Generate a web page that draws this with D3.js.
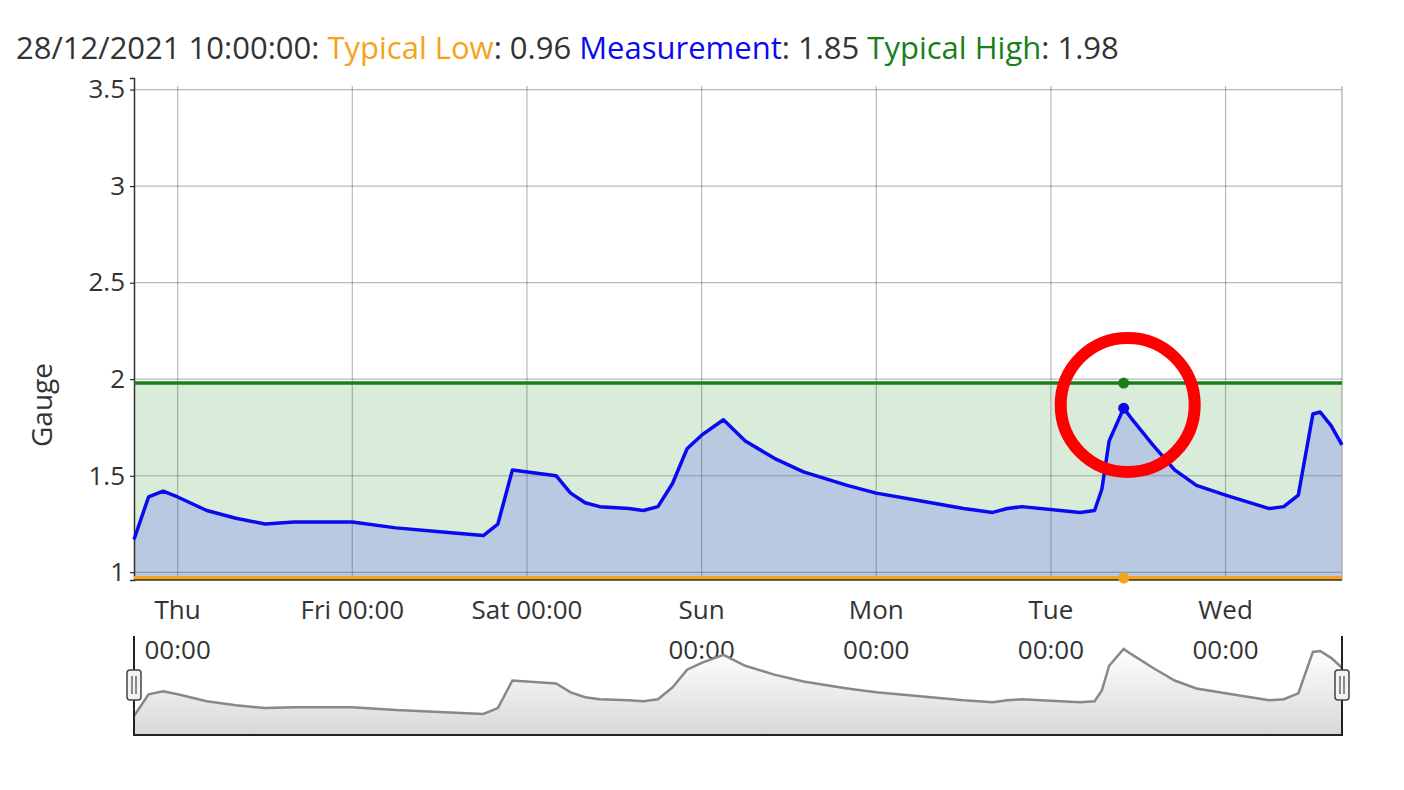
<!DOCTYPE html>
<html><head><meta charset="utf-8">
<script src="https://cdn.jsdelivr.net/npm/d3@7"></script>
<style>body{margin:0;background:#fff;font-family:"Open Sans",sans-serif}</style>
</head><body>
<svg id="chart" width="1404" height="790"></svg>
<script>
const measurement = [
  ["2021-12-22T18:00",1.17],["2021-12-22T20:00",1.39],["2021-12-22T22:00",1.42],
  ["2021-12-23T00:00",1.39],["2021-12-23T04:00",1.32],["2021-12-23T08:00",1.28],
  ["2021-12-23T12:00",1.25],["2021-12-23T16:00",1.26],["2021-12-24T00:00",1.26],
  ["2021-12-24T06:00",1.23],["2021-12-24T12:00",1.21],["2021-12-24T18:00",1.19],
  ["2021-12-24T20:00",1.25],["2021-12-24T22:00",1.53],["2021-12-25T04:00",1.50],
  ["2021-12-25T06:00",1.41],["2021-12-25T08:00",1.36],["2021-12-25T10:00",1.34],
  ["2021-12-25T14:00",1.33],["2021-12-25T16:00",1.32],["2021-12-25T18:00",1.34],
  ["2021-12-25T20:00",1.46],["2021-12-25T22:00",1.64],["2021-12-26T00:00",1.71],
  ["2021-12-26T03:00",1.79],["2021-12-26T06:00",1.68],["2021-12-26T10:00",1.59],
  ["2021-12-26T14:00",1.52],["2021-12-26T20:00",1.45],["2021-12-27T00:00",1.41],
  ["2021-12-27T06:00",1.37],["2021-12-27T12:00",1.33],["2021-12-27T16:00",1.31],
  ["2021-12-27T18:00",1.33],["2021-12-27T20:00",1.34],["2021-12-28T04:00",1.31],
  ["2021-12-28T06:00",1.32],["2021-12-28T07:00",1.43],["2021-12-28T08:00",1.68],
  ["2021-12-28T10:00",1.85],["2021-12-28T11:00",1.80],["2021-12-28T14:00",1.66],
  ["2021-12-28T17:00",1.53],["2021-12-28T20:00",1.45],["2021-12-29T00:00",1.40],
  ["2021-12-29T06:00",1.33],["2021-12-29T08:00",1.34],["2021-12-29T10:00",1.40],
  ["2021-12-29T12:00",1.82],["2021-12-29T13:00",1.83],["2021-12-29T14:30",1.76],
  ["2021-12-29T16:00",1.66]
];
const typicalLow = 0.96, typicalHigh = 1.98;
const hoverTime = "2021-12-28T10:00";
const yTicks = [1, 1.5, 2, 2.5, 3, 3.5];
const xTickDays = ["2021-12-23","2021-12-24","2021-12-25","2021-12-26","2021-12-27","2021-12-28","2021-12-29"];
const xTickLabels = [["Thu","00:00"],["Fri 00:00"],["Sat 00:00"],["Sun","00:00"],["Mon","00:00"],["Tue","00:00"],["Wed","00:00"]];

const parse = d3.timeParse("%Y-%m-%dT%H:%M");
const parseDay = d3.timeParse("%Y-%m-%d");
const data = measurement.map(([t,v]) => ({t: parse(t), v}));
const svg = d3.select("#chart");
const L = 134, R = 1342, T = 78, B = 580;

const x = d3.scaleTime().domain([parse("2021-12-22T18:00"), parse("2021-12-29T16:00")]).range([L, R]);
const y = d3.scaleLinear().domain([typicalLow, 3.56]).range([B, T]);

// bands
svg.append("rect").attr("x", L).attr("width", R - L).attr("y", y(typicalHigh)).attr("height", B - y(typicalHigh)).attr("fill", "#d9ecd9");
svg.append("path").datum(data).attr("fill", "#b8c9e1")
  .attr("d", d3.area().x(d => x(d.t)).y0(B).y1(d => y(d.v)));

// grid
const grid = svg.append("g").attr("stroke", "#5a6070").attr("stroke-opacity", 0.45).attr("stroke-width", 1.2);
yTicks.forEach(v => grid.append("line").attr("x1", L).attr("x2", R).attr("y1", y(v)).attr("y2", y(v)));
xTickDays.forEach(d => grid.append("line").attr("x1", x(parseDay(d))).attr("x2", x(parseDay(d))).attr("y1", T + 8).attr("y2", B));
svg.append("line").attr("x1", R).attr("x2", R).attr("y1", T + 8).attr("y2", B).attr("stroke", "#999");

// y axis
const yAxis = svg.append("g").attr("transform", `translate(${L},0)`)
  .call(d3.axisLeft(y).tickValues(yTicks).tickSize(4).tickFormat(d3.format("")));
yAxis.select(".domain").attr("stroke", "#333").attr("stroke-width", 1.5);
yAxis.selectAll("text").attr("font-size", 26).attr("font-family", "Open Sans").attr("fill", "#333").attr("dx", -2);
svg.append("text").attr("transform", "translate(52,405) rotate(-90)").attr("text-anchor", "middle")
  .attr("font-size", 28).attr("fill", "#333").text("Gauge");

// typical lines
svg.append("line").attr("x1", L).attr("x2", R).attr("y1", y(typicalHigh)).attr("y2", y(typicalHigh)).attr("stroke", "#1a7f1a").attr("stroke-width", 3.5);
svg.append("line").attr("x1", L).attr("x2", R).attr("y1", y(typicalLow) - 2).attr("y2", y(typicalLow) - 2).attr("stroke", "#f5a31a").attr("stroke-width", 4);
svg.append("line").attr("x1", L).attr("x2", R).attr("y1", B).attr("y2", B).attr("stroke", "#333").attr("stroke-width", 1.5);

// measurement line
svg.append("path").datum(data).attr("fill", "none").attr("stroke", "#0a0af0").attr("stroke-width", 3.5)
  .attr("stroke-linejoin", "round").attr("d", d3.line().x(d => x(d.t)).y(d => y(d.v)));

// hover markers
const ht = parse(hoverTime);
const hv = data.find(d => +d.t === +ht).v;
svg.append("circle").attr("cx", x(ht)).attr("cy", y(typicalHigh)).attr("r", 5.5).attr("fill", "#1a7f1a");
svg.append("circle").attr("cx", x(ht)).attr("cy", y(hv)).attr("r", 5.5).attr("fill", "#0a0af0");
svg.append("circle").attr("cx", x(ht)).attr("cy", y(typicalLow) - 2).attr("r", 5.5).attr("fill", "#f5a31a");
svg.append("circle").attr("cx", x(ht) + 4).attr("cy", 405).attr("r", 67).attr("fill", "none").attr("stroke", "#ff0000").attr("stroke-width", 12);

// x labels
xTickDays.forEach((d, i) => {
  const tx = x(parseDay(d));
  xTickLabels[i].forEach((s, j) => svg.append("text").attr("x", tx).attr("y", 619 + j * 40)
    .attr("text-anchor", "middle").attr("font-size", 26).attr("fill", "#333").text(s));
});

// title
const title = svg.append("text").attr("x", 16).attr("y", 59).attr("font-size", 31).attr("fill", "#333");
title.append("tspan").text("28/12/2021 10:00:00: ");
title.append("tspan").attr("fill", "#f5a31a").text("Typical Low");
title.append("tspan").text(": " + typicalLow + " ");
title.append("tspan").attr("fill", "#0a0af0").text("Measurement");
title.append("tspan").text(": " + hv + " ");
title.append("tspan").attr("fill", "#1a7f1a").text("Typical High");
title.append("tspan").text(": " + typicalHigh);

// navigator
const nT = 636, nB = 735;
const ny = d3.scaleLinear().domain(d3.extent(data, d => d.v)).range([716, 649]);
const grad = svg.append("defs").append("linearGradient").attr("id", "ng").attr("x1", 0).attr("x2", 0).attr("y1", 0).attr("y2", 1);
grad.append("stop").attr("offset", "0%").attr("stop-color", "#ffffff");
grad.append("stop").attr("offset", "100%").attr("stop-color", "#d8d8d8");
svg.append("path").datum(data).attr("fill", "url(#ng)").attr("d", d3.area().x(d => x(d.t)).y0(nB).y1(d => ny(d.v)));
svg.append("path").datum(data).attr("fill", "none").attr("stroke", "#888").attr("stroke-width", 2.5)
  .attr("d", d3.line().x(d => x(d.t)).y(d => ny(d.v)));
svg.append("path").attr("fill", "none").attr("stroke", "#222").attr("stroke-width", 2)
  .attr("d", `M${L},${nT}V${nB}H${R}V${nT}`);
[L, R].forEach(hx => {
  const g = svg.append("g").attr("transform", `translate(${hx},685)`);
  g.append("rect").attr("x", -7).attr("y", -15).attr("width", 14).attr("height", 30).attr("rx", 3).attr("fill", "#f2f2f2").attr("stroke", "#444").attr("stroke-width", 1.5);
  [-2, 2].forEach(o => g.append("line").attr("x1", o).attr("x2", o).attr("y1", -9).attr("y2", 9).attr("stroke", "#444").attr("stroke-width", 1.2));
});
</script>
</body></html>
